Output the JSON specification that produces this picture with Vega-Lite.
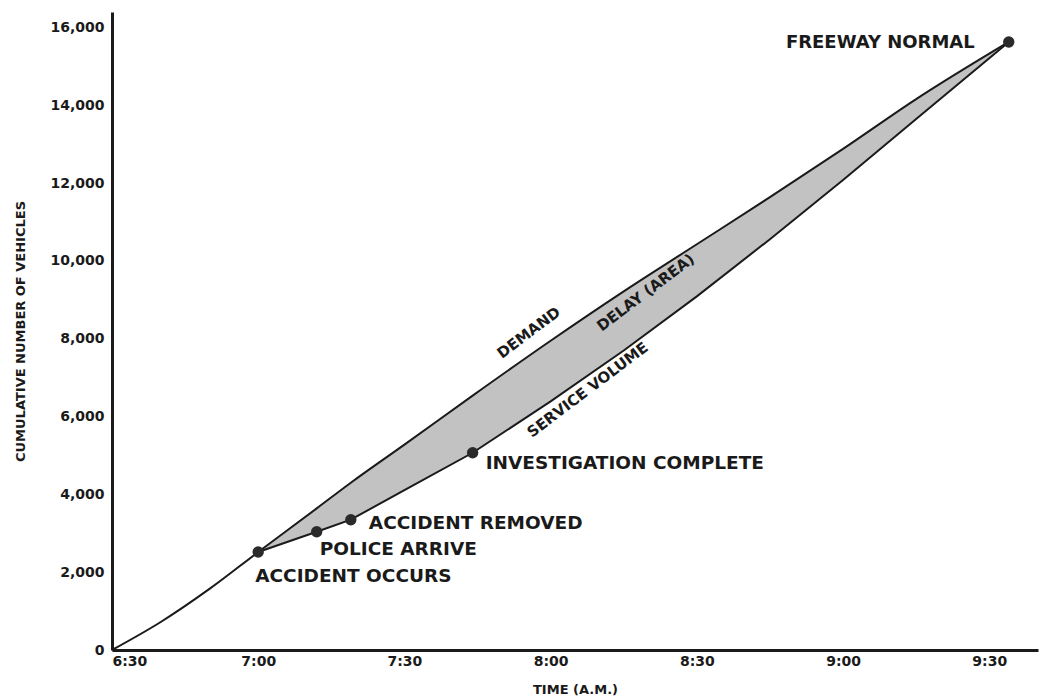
{
  "$schema": "https://vega.github.io/schema/vega-lite/v6.json",
  "width": 926,
  "height": 638,
  "autosize": {"type": "none"},
  "padding": {"left": 112, "top": 12, "right": 1, "bottom": 48},
  "background": "white",
  "config": {
    "view": {"stroke": null},
    "font": "DejaVu Sans",
    "axis": {
      "grid": false,
      "ticks": false,
      "domainColor": "#1a1a1a",
      "domainWidth": 3,
      "labelFont": "DejaVu Sans",
      "labelFontWeight": "bold",
      "labelFontSize": 14,
      "labelColor": "#1a1a1a",
      "titleFont": "DejaVu Sans",
      "titleFontWeight": "bold",
      "titleFontSize": 13,
      "titleColor": "#1a1a1a"
    }
  },
  "datasets": {
    "curves": [
      {"time": "2000-01-01 06:30", "demand": 0},
      {"time": "2000-01-01 06:40", "demand": 720},
      {"time": "2000-01-01 06:50", "demand": 1570},
      {"time": "2000-01-01 07:00", "demand": 2520, "service": 2520},
      {"time": "2000-01-01 07:12", "demand": 3640, "service": 3040},
      {"time": "2000-01-01 07:19", "demand": 4300, "service": 3350},
      {"time": "2000-01-01 07:30", "demand": 5280, "service": 4110},
      {"time": "2000-01-01 07:44", "demand": 6540, "service": 5070},
      {"time": "2000-01-01 08:00", "demand": 7950, "service": 6390},
      {"time": "2000-01-01 08:15", "demand": 9220, "service": 7700},
      {"time": "2000-01-01 08:30", "demand": 10430, "service": 9090},
      {"time": "2000-01-01 08:45", "demand": 11640, "service": 10560},
      {"time": "2000-01-01 09:00", "demand": 12880, "service": 12080},
      {"time": "2000-01-01 09:15", "demand": 14160, "service": 13650},
      {"time": "2000-01-01 09:34", "demand": 15630, "service": 15630}
    ],
    "events": [
      {"event": "ACCIDENT OCCURS", "time": "2000-01-01 07:00", "vehicles": 2520},
      {"event": "POLICE ARRIVE", "time": "2000-01-01 07:12", "vehicles": 3040},
      {"event": "ACCIDENT REMOVED", "time": "2000-01-01 07:19", "vehicles": 3350},
      {"event": "INVESTIGATION COMPLETE", "time": "2000-01-01 07:44", "vehicles": 5070},
      {"event": "FREEWAY NORMAL", "time": "2000-01-01 09:34", "vehicles": 15630}
    ],
    "notes": [
      {"note": "DEMAND", "time": "2000-01-01 07:55:30", "vehicles": 8160},
      {"note": "DELAY (AREA)", "time": "2000-01-01 08:19:30", "vehicles": 9190},
      {"note": "SERVICE VOLUME", "time": "2000-01-01 08:07:35", "vehicles": 6690}
    ]
  },
  "encoding": {
    "x": {
      "field": "time",
      "type": "temporal",
      "scale": {
        "domain": [
          {"year": 2000, "month": 1, "date": 1, "hours": 6, "minutes": 30},
          {"year": 2000, "month": 1, "date": 1, "hours": 9, "minutes": 40}
        ]
      },
      "axis": {
        "title": "TIME (A.M.)",
        "format": "%-I:%M",
        "labelPadding": 4,
        "titlePadding": 15,
        "values": [
          {"year": 2000, "month": 1, "date": 1, "hours": 6, "minutes": 30},
          {"year": 2000, "month": 1, "date": 1, "hours": 7, "minutes": 0},
          {"year": 2000, "month": 1, "date": 1, "hours": 7, "minutes": 30},
          {"year": 2000, "month": 1, "date": 1, "hours": 8, "minutes": 0},
          {"year": 2000, "month": 1, "date": 1, "hours": 8, "minutes": 30},
          {"year": 2000, "month": 1, "date": 1, "hours": 9, "minutes": 0},
          {"year": 2000, "month": 1, "date": 1, "hours": 9, "minutes": 30}
        ]
      }
    }
  },
  "layer": [
    {
      "data": {"name": "curves"},
      "transform": [{"filter": "datum.service != null"}],
      "mark": {"type": "area", "fill": "#c2c2c2", "interpolate": "linear"},
      "encoding": {
        "y": {"field": "service", "type": "quantitative", "scale": {"domain": [0, 16400], "nice": false}, "axis": {"title": "CUMULATIVE NUMBER OF VEHICLES", "values": [0, 2000, 4000, 6000, 8000, 10000, 12000, 14000, 16000], "format": ",d", "labelPadding": 8, "titlePadding": 22}},
        "y2": {"field": "demand"}
      }
    },
    {
      "data": {"name": "curves"},
      "mark": {"type": "line", "color": "#1a1a1a", "strokeWidth": 2, "interpolate": "monotone"},
      "encoding": {
        "y": {"field": "demand", "type": "quantitative", "scale": {"domain": [0, 16400], "nice": false}, "axis": {"title": "CUMULATIVE NUMBER OF VEHICLES", "values": [0, 2000, 4000, 6000, 8000, 10000, 12000, 14000, 16000], "format": ",d", "labelPadding": 8, "titlePadding": 22}}
      }
    },
    {
      "data": {"name": "curves"},
      "transform": [{"filter": "datum.service != null"}],
      "mark": {"type": "line", "color": "#1a1a1a", "strokeWidth": 2, "interpolate": "linear"},
      "encoding": {
        "y": {"field": "service", "type": "quantitative", "scale": {"domain": [0, 16400], "nice": false}, "axis": {"title": "CUMULATIVE NUMBER OF VEHICLES", "values": [0, 2000, 4000, 6000, 8000, 10000, 12000, 14000, 16000], "format": ",d", "labelPadding": 8, "titlePadding": 22}}
      }
    },
    {
      "data": {"name": "events"},
      "mark": {"type": "point", "filled": true, "color": "#2a2a2a", "size": 130, "opacity": 1},
      "encoding": {
        "y": {"field": "vehicles", "type": "quantitative", "scale": {"domain": [0, 16400], "nice": false}, "axis": {"title": "CUMULATIVE NUMBER OF VEHICLES", "values": [0, 2000, 4000, 6000, 8000, 10000, 12000, 14000, 16000], "format": ",d", "labelPadding": 8, "titlePadding": 22}}
      }
    },
    {
      "data": {"name": "events"},
      "transform": [{"filter": "datum.event == 'ACCIDENT OCCURS'"}],
      "mark": {"type": "text", "align": "left", "baseline": "middle", "dx": -3, "dy": 24, "fontSize": 18.5, "fontWeight": "bold", "color": "#1a1a1a"},
      "encoding": {"y": {"field": "vehicles", "type": "quantitative"}, "text": {"field": "event"}}
    },
    {
      "data": {"name": "events"},
      "transform": [{"filter": "datum.event == 'POLICE ARRIVE'"}],
      "mark": {"type": "text", "align": "left", "baseline": "middle", "dx": 3, "dy": 17, "fontSize": 18.5, "fontWeight": "bold", "color": "#1a1a1a"},
      "encoding": {"y": {"field": "vehicles", "type": "quantitative"}, "text": {"field": "event"}}
    },
    {
      "data": {"name": "events"},
      "transform": [{"filter": "datum.event == 'ACCIDENT REMOVED'"}],
      "mark": {"type": "text", "align": "left", "baseline": "middle", "dx": 18, "dy": 3, "fontSize": 18.5, "fontWeight": "bold", "color": "#1a1a1a"},
      "encoding": {"y": {"field": "vehicles", "type": "quantitative"}, "text": {"field": "event"}}
    },
    {
      "data": {"name": "events"},
      "transform": [{"filter": "datum.event == 'INVESTIGATION COMPLETE'"}],
      "mark": {"type": "text", "align": "left", "baseline": "middle", "dx": 13, "dy": 10, "fontSize": 18.5, "fontWeight": "bold", "color": "#1a1a1a"},
      "encoding": {"y": {"field": "vehicles", "type": "quantitative"}, "text": {"field": "event"}}
    },
    {
      "data": {"name": "events"},
      "transform": [{"filter": "datum.event == 'FREEWAY NORMAL'"}],
      "mark": {"type": "text", "align": "right", "baseline": "middle", "dx": -34, "dy": 1, "fontSize": 18, "fontWeight": "bold", "color": "#1a1a1a"},
      "encoding": {"y": {"field": "vehicles", "type": "quantitative"}, "text": {"field": "event"}}
    },
    {
      "data": {"name": "notes"},
      "mark": {"type": "text", "align": "center", "baseline": "middle", "angle": 323, "fontSize": 15, "fontWeight": "bold", "color": "#1a1a1a"},
      "encoding": {"y": {"field": "vehicles", "type": "quantitative"}, "text": {"field": "note"}}
    }
  ]
}
